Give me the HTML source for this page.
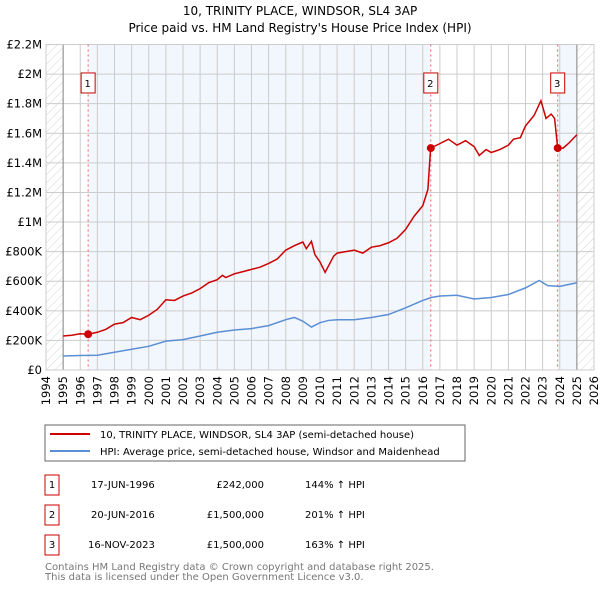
<!DOCTYPE html>
<html><head><meta charset="utf-8"><style>
body{margin:0;background:#fff;font-family:"DejaVu Sans","Liberation Sans",sans-serif;}
svg text{font-family:"DejaVu Sans","Liberation Sans",sans-serif;}
</style></head><body>
<svg id="c" width="600" height="590" viewBox="0 0 600 590" xmlns="http://www.w3.org/2000/svg">
<defs><pattern id="hatch" width="6" height="6" patternUnits="userSpaceOnUse" patternTransform="rotate(45)"><line x1="0" y1="0" x2="0" y2="6" stroke="#d4d4d4" stroke-width="1"/></pattern></defs>
<text x="300" y="15" text-anchor="middle" font-size="12">10, TRINITY PLACE, WINDSOR, SL4 3AP</text>
<text x="300" y="32" text-anchor="middle" font-size="12">Price paid vs. HM Land Registry's House Price Index (HPI)</text>
<g id="plot"></g>
<g>
<rect x="45" y="425" width="420" height="36" fill="#fff" stroke="#666"/>
<line x1="50" y1="434" x2="90" y2="434" stroke="#cc0000" stroke-width="2"/>
<text x="100" y="438" font-size="10">10, TRINITY PLACE, WINDSOR, SL4 3AP (semi-detached house)</text>
<line x1="50" y1="451" x2="90" y2="451" stroke="#5b8fd4" stroke-width="2"/>
<text x="100" y="455" font-size="10">HPI: Average price, semi-detached house, Windsor and Maidenhead</text>
</g>
<g font-size="10">
<rect x="45" y="475" width="14" height="20" fill="#fff" stroke="#cc0000"/><text x="52" y="488" text-anchor="middle">1</text>
<text x="91" y="488">17-JUN-1996</text><text x="264" y="488" text-anchor="end">£242,000</text><text x="305" y="488">144% ↑ HPI</text>
<rect x="45" y="505" width="14" height="20" fill="#fff" stroke="#cc0000"/><text x="52" y="518" text-anchor="middle">2</text>
<text x="91" y="518">20-JUN-2016</text><text x="264" y="518" text-anchor="end">£1,500,000</text><text x="305" y="518">201% ↑ HPI</text>
<rect x="45" y="535" width="14" height="20" fill="#fff" stroke="#cc0000"/><text x="52" y="548" text-anchor="middle">3</text>
<text x="88" y="548">16-NOV-2023</text><text x="264" y="548" text-anchor="end">£1,500,000</text><text x="305" y="548">163% ↑ HPI</text>
</g>
<text x="45" y="570" font-size="10" fill="#777">Contains HM Land Registry data © Crown copyright and database right 2025.</text>
<text x="45" y="580" font-size="10" fill="#777">This data is licensed under the Open Government Licence v3.0.</text>
</svg>
<script>
const yTicks=[0,200000,400000,600000,800000,1000000,1200000,1400000,1600000,1800000,2000000,2200000];
const yTickLabels=["£0","£200K","£400K","£600K","£800K","£1M","£1.2M","£1.4M","£1.6M","£1.8M","£2M","£2.2M"];
const xYears=[1994,1995,1996,1997,1998,1999,2000,2001,2002,2003,2004,2005,2006,2007,2008,2009,2010,2011,2012,2013,2014,2015,2016,2017,2018,2019,2020,2021,2022,2023,2024,2025,2026];
const priceT=[1995,1995.5,1996,1996.46,1997,1997.5,1998,1998.5,1999,1999.5,2000,2000.5,2001,2001.5,2002,2002.5,2003,2003.5,2004,2004.3,2004.5,2005,2005.5,2006,2006.5,2007,2007.5,2008,2008.5,2009,2009.2,2009.5,2009.7,2010,2010.3,2010.8,2011,2011.5,2012,2012.5,2013,2013.5,2014,2014.5,2015,2015.5,2016,2016.3,2016.46,2017,2017.5,2018,2018.5,2019,2019.3,2019.7,2020,2020.5,2021,2021.3,2021.7,2022,2022.5,2022.9,2023.2,2023.5,2023.7,2023.88,2024.2,2024.5,2025];
const priceV=[230,235,245,242,255,275,310,320,355,340,370,410,475,470,500,520,550,590,610,640,625,650,665,680,695,720,750,810,840,865,820,870,780,730,660,770,790,800,810,790,830,840,860,890,950,1040,1110,1220,1500,1530,1560,1520,1550,1510,1450,1490,1470,1490,1520,1560,1570,1650,1720,1820,1700,1730,1700,1500,1500,1530,1590];
const hpiT=[1995,1996,1997,1998,1999,2000,2001,2002,2003,2004,2005,2006,2007,2008,2008.5,2009,2009.5,2010,2010.5,2011,2012,2013,2014,2015,2016,2016.5,2017,2018,2019,2020,2021,2022,2022.8,2023.3,2024,2025];
const hpiV=[95,98,100,120,140,160,195,205,230,255,270,280,300,340,355,330,290,320,335,340,340,355,375,420,470,490,500,505,480,490,510,555,605,570,565,590];
const saleT=[1996.46,2016.47,2023.88];
const saleV=[242,1500,1500];
const saleLabels=["1","2","3"];
const X0=46,X1=594,Y0=370,Y1=44.5;
const sx=y=>X0+(y-1994)/32*(X1-X0);
const sy=v=>Y0-v/2200000*(Y0-Y1);
const NS="http://www.w3.org/2000/svg";
const g=document.getElementById('plot');
function mk(t,a){const e=document.createElementNS(NS,t);for(const k in a)e.setAttribute(k,a[k]);g.appendChild(e);return e;}
let e;
e=mk('rect',{x:X0,y:Y1,width:X1-X0,height:Y0-Y1,fill:'#fff'});
e=mk('rect',{x:sx(saleT[0]),y:Y1,width:sx(saleT[1])-sx(saleT[0]),height:Y0-Y1,fill:'#f2f6fd'});


e=mk('rect',{x:sx(saleT[2]),y:Y1,width:sx(2025)-sx(saleT[2]),height:Y0-Y1,fill:'#f2f6fd'});


e=mk('rect',{x:X0,y:Y1,width:sx(1995)-X0,height:Y0-Y1,fill:'url(#hatch)'});


e=mk('rect',{x:sx(2025),y:Y1,width:X1-sx(2025),height:Y0-Y1,fill:'url(#hatch)'});


yTicks.forEach((v,i)=>{
 e=mk('line',{x1:X0,x2:X1,y1:sy(v),y2:sy(v),stroke:'#ccc'});
 
 
 e=mk('text',{x:X0-4,y:sy(v)+4,'text-anchor':'end','font-size':'11.5'});e.textContent=yTickLabels[i];
 
 
});
xYears.forEach(y=>{
 e=mk('line',{x1:sx(y),x2:sx(y),y1:Y1,y2:Y0,stroke:'#ccc'});
 
 
 e=mk('text',{x:0,y:0,'font-size':'11.5','text-anchor':'end',transform:`translate(${sx(y)+4},${Y0+6}) rotate(-90)`});e.textContent=y;
 
 
});
[1995,2025].forEach(y=>{e=mk('line',{x1:sx(y),x2:sx(y),y1:Y1,y2:Y0,stroke:'#888'});
 
 });
e=mk('rect',{x:X0,y:Y1,width:X1-X0,height:Y0-Y1,fill:'none',stroke:'#ccc'});
saleT.forEach(t=>{e=mk('line',{x1:sx(t),x2:sx(t),y1:Y1,y2:Y0,stroke:'#f06060','stroke-dasharray':'2,3'});
 
 });
e=mk('polyline',{points:hpiT.map((t,i)=>sx(t)+','+sy(hpiV[i]*1000)).join(' '),fill:'none',stroke:'#5b8fd4','stroke-width':1.5});


e=mk('polyline',{points:priceT.map((t,i)=>sx(t)+','+sy(priceV[i]*1000)).join(' '),fill:'none',stroke:'#cc0000','stroke-width':1.5});


saleT.forEach((t,i)=>{
 e=mk('circle',{cx:sx(t),cy:sy(saleV[i]*1000),r:4,fill:'#cc0000'});
 
 
 e=mk('rect',{x:sx(t)-7,y:sy(1940000)-10,width:14,height:20,fill:'#fff',stroke:'#cc0000'});
 
 
 e=mk('text',{x:sx(t)-0.5,y:sy(1940000)+4,'text-anchor':'middle','font-size':'10'});e.textContent=saleLabels[i];
 
 
});
</script>
</body></html>
